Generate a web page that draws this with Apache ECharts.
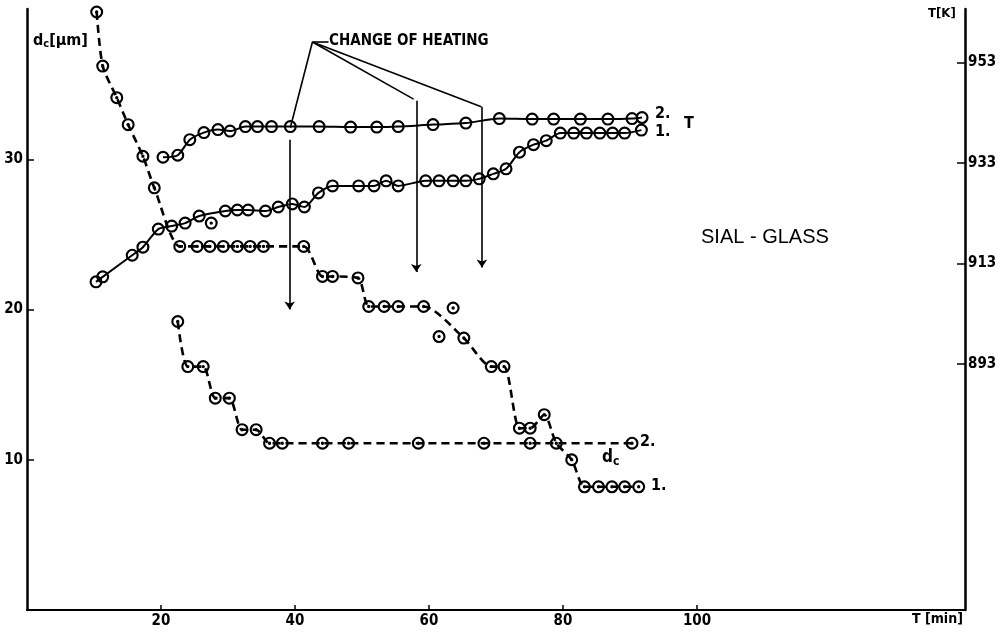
<!DOCTYPE html>
<html>
<head>
<meta charset="utf-8">
<script src="https://cdn.jsdelivr.net/npm/echarts@6/dist/echarts.min.js"></script>
<style>
html,body{margin:0;padding:0;background:#fff;}
#chart{width:1005px;height:635px;}
</style>
</head>
<body>
<div id="chart"></div>
<script>
// ---- data (time in min, dc in µm, T in K) ----
const xTicks = [20, 40, 60, 80, 100];
const dcTicks = [10, 20, 30];
const tempTicks = [893, 913, 933, 953];

const t1Time = [10.3, 11.3, 15.7, 17.3, 19.6, 21.6, 23.6, 25.7, 29.6, 31.4, 33.0, 35.6, 37.5, 39.6, 41.4, 43.5, 45.6, 49.5, 51.8, 53.6, 55.4, 59.5, 61.5, 63.6, 65.5, 67.5, 69.6, 71.5, 73.5, 75.6, 77.5, 79.6, 81.6, 83.5, 85.5, 87.4, 89.2, 91.7];
const t1Temp = [909.3, 910.3, 914.6, 916.2, 919.8, 920.4, 921.0, 922.4, 923.4, 923.6, 923.6, 923.4, 924.2, 924.8, 924.2, 927.0, 928.4, 928.4, 928.4, 929.4, 928.4, 929.4, 929.4, 929.4, 929.4, 929.8, 930.8, 931.8, 935.1, 936.6, 937.4, 938.9, 938.9, 938.9, 938.9, 938.9, 938.9, 939.5];
const t1OutTime = [27.5];
const t1OutTemp = [921.0];

const t2Time = [20.3, 22.5, 24.3, 26.4, 28.5, 30.3, 32.6, 34.4, 36.5, 39.3, 43.6, 48.3, 52.2, 55.4, 60.6, 65.5, 70.5, 75.4, 78.6, 82.6, 86.7, 90.3, 91.8];
const t2Temp = [934.1, 934.5, 937.6, 939.0, 939.6, 939.3, 940.2, 940.2, 940.2, 940.2, 940.2, 940.1, 940.1, 940.2, 940.6, 940.9, 941.8, 941.7, 941.7, 941.7, 941.7, 941.8, 942.0];

const dc1Time = [10.4, 11.3, 13.4, 15.1, 17.3, 19.0, 22.8, 25.4, 27.3, 29.3, 31.4, 33.3, 35.3, 41.3, 44.1, 45.6, 49.4, 51.0, 53.3, 55.4, 59.2, 65.2, 69.3, 71.2, 73.5, 75.1, 77.2, 79.0, 81.3, 83.2, 85.3, 87.3, 89.2, 91.3];
const dc1Size = [39.8, 36.2, 34.1, 32.3, 30.2, 28.1, 24.2, 24.2, 24.2, 24.2, 24.2, 24.2, 24.2, 24.2, 22.2, 22.2, 22.1, 20.2, 20.2, 20.2, 20.2, 18.1, 16.2, 16.2, 12.1, 12.1, 13.0, 11.1, 10.0, 8.2, 8.2, 8.2, 8.2, 8.2];
const dc1OutTime = [61.5, 63.6];
const dc1OutSize = [18.2, 20.1];

const dc2Time = [22.5, 24.0, 26.3, 28.1, 30.2, 32.1, 34.2, 36.2, 38.1, 44.1, 48.0, 58.4, 68.2, 75.1, 90.3];
const dc2Size = [19.2, 16.2, 16.2, 14.1, 14.1, 12.0, 12.0, 11.1, 11.1, 11.1, 11.1, 11.1, 11.1, 11.1, 11.1];

// "change of heating" annotation (time, dc-axis units)
const leaderFrom = [42.6, 37.8];
const leaderTo = [[39.3, 32.1], [57.7, 34.0], [67.8, 33.5]];
const arrowTime = [39.2, 58.1, 67.9];
const arrowTop = [31.3, 33.9, 33.5];
const arrowBottom = [20.0, 22.5, 22.8];

// ---- build ----
const zip = (a, b) => a.map((v, i) => [v, b[i]]);
const RING = 'path://M10,0A10,10,0,1,1,10,20A10,10,0,1,1,10,0ZM10,3.3A6.7,6.7,0,1,0,10,16.7A6.7,6.7,0,1,0,10,3.3Z';
const RING_DOT = RING + 'M10,7.4A2.6,2.6,0,1,1,10,12.6A2.6,2.6,0,1,1,10,7.4Z';
const FONT = '"DejaVu Sans Condensed","Liberation Sans Narrow","Liberation Sans",sans-serif';

const markLines = [];
leaderTo.forEach(p => markLines.push([{coord: leaderFrom}, {coord: p, symbol: 'none'}]));
markLines.push([{coord: leaderFrom}, {coord: [leaderFrom[0] + 2.4, leaderFrom[1]], symbol: 'none'}]);
arrowTime.forEach((t, i) => markLines.push([{coord: [t, arrowTop[i]]}, {coord: [t, arrowBottom[i]], symbol: 'arrow'}]));

function lineSeries(name, data, yIdx, dashed, symbol) {
  return {
    name, type: 'line', data, yAxisIndex: yIdx,
    smooth: 0.25, showAllSymbol: true,
    symbol, symbolSize: 13,
    itemStyle: {color: '#000', borderWidth: 0, opacity: 1},
    lineStyle: {color: '#000', width: dashed ? 2.6 : 2, type: dashed ? [8, 5] : 'solid'},
    emphasis: {disabled: true}, silent: true, z: 3
  };
}
function pointSeries(name, data, yIdx) {
  return {
    name, type: 'scatter', data, yAxisIndex: yIdx,
    symbol: RING_DOT, symbolSize: 13,
    itemStyle: {color: '#000', borderWidth: 0, opacity: 1},
    emphasis: {disabled: true}, silent: true, z: 3
  };
}

const dc1Line = lineSeries('dc1', zip(dc1Time, dc1Size), 0, true, RING_DOT);
dc1Line.markLine = {
  silent: true, symbol: ['none', 'none'], symbolSize: 8,
  label: {show: false},
  lineStyle: {color: '#000', width: 1.6, type: 'solid'},
  emphasis: {disabled: true},
  data: markLines
};

const axisLabelBase = {color: '#000', fontFamily: FONT, fontWeight: 'bold', fontSize: 15};

const option = {
  animation: false,
  backgroundColor: '#fff',
  grid: {left: 27, right: 40, top: 9, bottom: 25},
  xAxis: {
    type: 'value', min: 0, max: 140,
    axisLine: {onZero: false, lineStyle: {color: '#000', width: 2}},
    axisTick: {inside: true, length: 5, customValues: xTicks, lineStyle: {color: '#000', width: 1.5}},
    axisLabel: Object.assign({customValues: xTicks, margin: 4}, axisLabelBase),
    splitLine: {show: false}
  },
  yAxis: [
    {
      type: 'value', min: 0, max: 40, position: 'left',
      axisLine: {show: true, onZero: false, lineStyle: {color: '#000', width: 2.5}},
      axisTick: {show: true, inside: true, length: 7, customValues: dcTicks, lineStyle: {color: '#000', width: 1.5}},
      axisLabel: Object.assign({customValues: dcTicks, margin: 4}, axisLabelBase),
      splitLine: {show: false}
    },
    {
      type: 'value', min: 844, max: 963.6, position: 'right',
      axisLine: {show: true, onZero: false, lineStyle: {color: '#000', width: 2.5}},
      axisTick: {show: true, inside: true, length: 8, customValues: tempTicks, lineStyle: {color: '#000', width: 1.5}},
      axisLabel: Object.assign({customValues: tempTicks, margin: 3}, axisLabelBase),
      splitLine: {show: false}
    }
  ],
  series: [
    lineSeries('T1', zip(t1Time, t1Temp), 1, false, RING),
    lineSeries('T2', zip(t2Time, t2Temp), 1, false, RING),
    pointSeries('T1 single', zip(t1OutTime, t1OutTemp), 1),
    dc1Line,
    lineSeries('dc2', zip(dc2Time, dc2Size), 0, true, RING_DOT),
    pointSeries('dc1 single', zip(dc1OutTime, dc1OutSize), 0)
  ],
  graphic: [
    {type: 'text', left: 33, top: 33, style: {text: '{a|d}{b|c}{a|[µm]}', rich: {
      a: {fontFamily: FONT, fontWeight: 'bold', fontSize: 16, fill: '#000'},
      b: {fontFamily: FONT, fontWeight: 'bold', fontSize: 11, fill: '#000', padding: [7, 0, 0, 0]}}}},
    {type: 'text', left: 928, top: 7, style: {text: 'T[K]', fontFamily: FONT, fontWeight: 'bold', fontSize: 13, fill: '#000'}},
    {type: 'text', left: 912, top: 612, style: {text: 'T [min]', fontFamily: FONT, fontWeight: 'bold', fontSize: 14, fill: '#000'}},
    {type: 'text', left: 329, top: 34, style: {text: 'CHANGE OF HEATING', fontFamily: FONT, fontWeight: 'bold', fontSize: 15, fill: '#000'}},
    {type: 'text', left: 655, top: 106, style: {text: '2.', fontFamily: FONT, fontWeight: 'bold', fontSize: 16, fill: '#000'}},
    {type: 'text', left: 655, top: 124, style: {text: '1.', fontFamily: FONT, fontWeight: 'bold', fontSize: 16, fill: '#000'}},
    {type: 'text', left: 684, top: 116, style: {text: 'T', fontFamily: FONT, fontWeight: 'bold', fontSize: 16, fill: '#000'}},
    {type: 'text', left: 701, top: 227, style: {text: 'SIAL - GLASS', fontFamily: '"Liberation Sans",sans-serif', fontSize: 20, fill: '#000'}},
    {type: 'text', left: 640, top: 434, style: {text: '2.', fontFamily: FONT, fontWeight: 'bold', fontSize: 16, fill: '#000'}},
    {type: 'text', left: 651, top: 478, style: {text: '1.', fontFamily: FONT, fontWeight: 'bold', fontSize: 16, fill: '#000'}},
    {type: 'text', left: 602, top: 449, style: {text: '{a|d}{b|c}', rich: {
      a: {fontFamily: FONT, fontWeight: 'bold', fontSize: 17, fill: '#000'},
      b: {fontFamily: FONT, fontWeight: 'bold', fontSize: 12, fill: '#000', padding: [8, 0, 0, 0]}}}}
  ]
};

const chart = echarts.init(document.getElementById('chart'), null, {renderer: 'canvas'});
chart.setOption(option);
</script>
</body>
</html>
